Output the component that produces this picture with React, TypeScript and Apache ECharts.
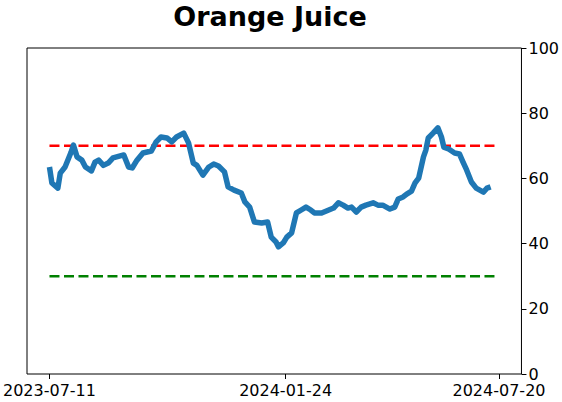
import React, { useEffect, useRef } from "react";
import * as echarts from "echarts";

const dates: string[] = [
  "2023-07-11", "2023-07-13", "2023-07-18", "2023-07-20", "2023-07-24", "2023-07-29", "2023-07-31",
  "2023-08-03", "2023-08-07", "2023-08-10", "2023-08-15", "2023-08-18", "2023-08-21", "2023-08-25",
  "2023-08-29", "2023-09-02", "2023-09-11", "2023-09-15", "2023-09-18", "2023-09-22", "2023-09-27",
  "2023-10-04", "2023-10-08", "2023-10-12", "2023-10-17", "2023-10-21", "2023-10-25", "2023-10-31",
  "2023-11-04", "2023-11-08", "2023-11-11", "2023-11-16", "2023-11-21", "2023-11-25", "2023-11-29",
  "2023-12-04", "2023-12-07", "2023-12-12", "2023-12-18", "2023-12-21", "2023-12-25", "2023-12-29",
  "2024-01-04", "2024-01-09", "2024-01-12", "2024-01-16", "2024-01-18", "2024-01-22", "2024-01-25",
  "2024-01-29", "2024-02-02", "2024-02-06", "2024-02-10", "2024-02-14", "2024-02-17", "2024-02-23",
  "2024-02-29", "2024-03-04", "2024-03-08", "2024-03-12", "2024-03-16", "2024-03-19", "2024-03-23",
  "2024-03-27", "2024-03-31", "2024-04-06", "2024-04-10", "2024-04-14", "2024-04-17", "2024-04-20",
  "2024-04-24", "2024-04-27", "2024-05-01", "2024-05-04", "2024-05-08", "2024-05-11", "2024-05-14",
  "2024-05-18", "2024-05-20", "2024-05-22", "2024-05-26", "2024-05-30", "2024-06-02", "2024-06-04",
  "2024-06-08", "2024-06-13", "2024-06-17", "2024-06-20", "2024-06-23", "2024-06-27", "2024-07-01",
  "2024-07-07", "2024-07-10", "2024-07-13",
];

const values: number[] = [
  63.5, 58.6, 57.0, 61.6, 63.5, 68.0, 70.2,
  66.6, 65.6, 63.5, 62.3, 65.0, 65.6, 64.0,
  64.7, 66.3, 67.2, 63.5, 63.2, 65.6, 67.8,
  68.4, 71.2, 72.7, 72.4, 71.2, 72.7, 73.9,
  70.9, 64.7, 64.0, 61.0, 63.5, 64.4, 63.8,
  62.0, 57.4, 56.4, 55.5, 52.8, 51.2, 46.6,
  46.3, 46.6, 42.0, 40.5, 39.0, 40.2, 42.0,
  43.3, 49.4, 50.3, 51.2, 50.3, 49.4, 49.4,
  50.3, 50.9, 52.5, 51.8, 50.9, 51.2, 49.7,
  51.2, 51.8, 52.5, 51.8, 51.8, 51.2, 50.6,
  51.2, 53.7, 54.3, 55.2, 56.1, 58.6, 60.1,
  66.6, 68.7, 72.4, 73.9, 75.5, 72.7, 69.6,
  69.0, 67.8, 67.5, 65.0, 62.6, 58.9, 57.0,
  55.8, 57.0, 57.4,
];

const tickDates: string[] = ["2023-07-11", "2024-01-24", "2024-07-20"];
const upperLevel = 70;
const lowerLevel = 30;

const DAY = 86400000;
const ts = (s: string) => {
  const [y, m, d] = s.split("-").map(Number);
  return Date.UTC(y, m - 1, d);
};
const T0 = ts(tickDates[0]);
const dayOf = (s: string) => Math.round((ts(s) - T0) / DAY);
const fmt = (day: number) => {
  const d = new Date(T0 + Math.round(day) * DAY);
  const p = (n: number) => String(n).padStart(2, "0");
  return `${d.getUTCFullYear()}-${p(d.getUTCMonth() + 1)}-${p(d.getUTCDate())}`;
};

export default function App() {
  const ref = useRef<HTMLDivElement>(null);
  useEffect(() => {
    if (!ref.current) return;
    const chart = echarts.init(ref.current, undefined, { renderer: "svg" });
    const d0 = dayOf(tickDates[0]);
    const d1 = dayOf(tickDates[tickDates.length - 1]);
    const span = d1 - d0;
    const tickDays = tickDates.map(dayOf);
    const font = "DejaVu Sans";
    chart.setOption({
      animation: false,
      title: {
        text: "Orange Juice",
        left: 265,
        top: -2,
        textAlign: "center",
        textStyle: { fontFamily: font, fontWeight: "bold", fontSize: 27, color: "#000" },
      },
      grid: {
        left: 27,
        right: 40,
        top: 48,
        bottom: 28,
        show: true,
        borderColor: "#000",
        borderWidth: 1,
        backgroundColor: "transparent",
      },
      xAxis: {
        type: "value",
        min: d0 - span * 0.05,
        max: d1 + span * 0.05,
        axisLine: { show: false, onZero: false },
        splitLine: { show: false },
        axisTick: { show: true, length: 5, lineStyle: { color: "#000" }, customValues: tickDays },
        axisLabel: {
          customValues: tickDays,
          formatter: (v: number) => fmt(v),
          fontFamily: font,
          fontSize: 16,
          color: "#000",
          margin: 8,
        },
      },
      yAxis: {
        type: "value",
        position: "right",
        min: 0,
        max: 100,
        interval: 20,
        axisLine: { show: false, onZero: false },
        splitLine: { show: false },
        axisTick: { show: true, length: 5, lineStyle: { color: "#000" } },
        axisLabel: {
          fontFamily: font,
          fontSize: 16,
          color: "#000",
          margin: 7,
        },
      },
      series: [
        {
          type: "line",
          data: [[d0, upperLevel], [d1, upperLevel]],
          showSymbol: false,
          lineStyle: { color: "#ff0000", width: 2.5, type: [10, 4.5] },
          z: 2,
        },
        {
          type: "line",
          data: [[d0, lowerLevel], [d1, lowerLevel]],
          showSymbol: false,
          lineStyle: { color: "#008000", width: 2.5, type: [10, 4.5] },
          z: 2,
        },
        {
          type: "line",
          data: dates.map((d, i) => [dayOf(d), values[i]]),
          showSymbol: false,
          lineStyle: { color: "#1f77b4", width: 5.5, join: "round", cap: "butt" },
          z: 3,
        },
      ],
    });
    return () => chart.dispose();
  }, []);
  return <div ref={ref} style={{ width: 562, height: 402, position: "absolute", left: 0, top: 0 }} />;
}
